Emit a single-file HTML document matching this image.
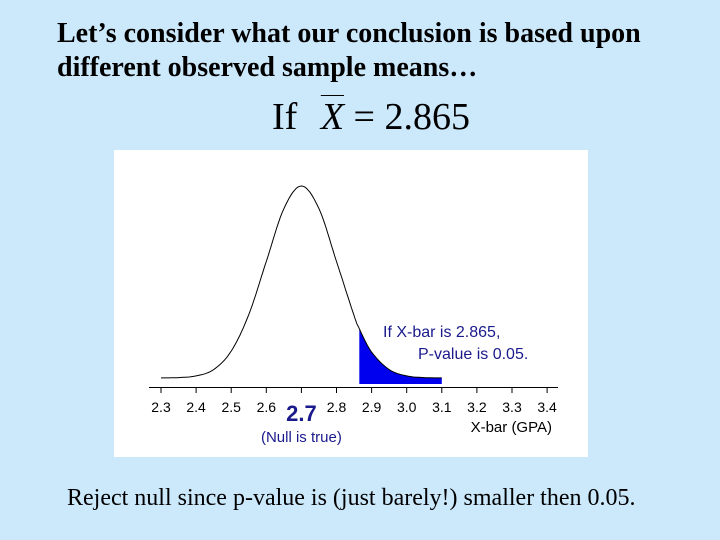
<!DOCTYPE html>
<html><head><meta charset="utf-8">
<style>
body{margin:0;width:720px;height:540px;background:#cce8fb;position:relative;overflow:hidden;font-family:"Liberation Serif",serif}
.t{position:absolute;white-space:nowrap}
</style></head>
<body>
<div class="t" style="left:57px;top:17px;font-size:28px;font-weight:bold;line-height:34px">Let’s consider what our conclusion is based upon<br>different observed sample means…</div>
<div class="t" style="left:272px;top:95px;font-size:38px;line-height:44px">If <span style="font-style:italic;text-decoration:overline;text-decoration-thickness:1px;margin-left:14px">X</span> = 2.865</div>
<svg style="position:absolute;left:0;top:0" width="720" height="540">
<rect x="114" y="150" width="474" height="307" fill="#fff"/>
<g id="g"></g>
</svg>
<div class="t" style="left:67px;top:485px;font-size:24px">Reject null since p-value is (just barely!) smaller then 0.05.</div>
<script>
const xs=[2.30,2.35,2.40,2.45,2.50,2.55,2.60,2.65,2.70,2.75,2.80,2.85,2.865,2.90,2.95,3.00,3.05,3.10];
const ys=[0.0003,0.0022,0.011,0.044,0.140,0.330,0.607,0.882,1,0.882,0.607,0.325,0.257,0.135,0.044,0.011,0.0022,0.0003];
const ticks=[2.3,2.4,2.5,2.6,2.7,2.8,2.9,3.0,3.1,3.2,3.3,3.4];
const tickLabels=["2.3","2.4","2.5","2.6","","2.8","2.9","3.0","3.1","3.2","3.3","3.4"];
const pCut=2.865;
const X=v=>161+(v-2.3)*351;
const Y=v=>378-v*192;
const ns="http://www.w3.org/2000/svg",g=document.getElementById('g');
function mk(t,a,n){const e=document.createElementNS(ns,t);for(const k in a)e.setAttribute(k,a[k]);g.appendChild(e);return e;}
function pts(from,to){const P=xs.map((x,i)=>[X(x),Y(ys[i])]);let out=[];
for(let i=0;i<P.length-1;i++){const p0=P[Math.max(0,i-1)],p1=P[i],p2=P[i+1],p3=P[Math.min(P.length-1,i+2)];
for(let s=0;s<10;s++){const t=s/10,t2=t*t,t3=t2*t;
const f=(a,b,c,d)=>0.5*(2*b+(-a+c)*t+(2*a-5*b+4*c-d)*t2+(-a+3*b-3*c+d)*t3);
out.push([f(p0[0],p1[0],p2[0],p3[0]),f(p0[1],p1[1],p2[1],p3[1])]);}}
out.push(P[P.length-1]);return out.filter(p=>p[0]>=X(from)-0.01&&p[0]<=X(to)+0.01);}
const tail=pts(pCut,xs[xs.length-1]);
let d='M'+X(pCut)+','+384+' '+tail.map(p=>'L'+p[0].toFixed(1)+','+p[1].toFixed(1)).join(' ')+' L'+X(xs[xs.length-1])+',384Z';
mk('path',{d:d,fill:'#0000ee'},'p-value-area');
const all=pts(xs[0],xs[xs.length-1]);
mk('path',{d:'M'+all.map(p=>p[0].toFixed(1)+','+p[1].toFixed(1)).join(' L'),fill:'none',stroke:'#000','stroke-width':1},'density-curve');
mk('line',{x1:149,x2:558,y1:387.5,y2:387.5,stroke:'#000','stroke-width':1},'x-axis');
ticks.forEach((t,i)=>{
mk('line',{x1:X(t),x2:X(t),y1:387,y2:393,stroke:'#000'},'x-tick');
if(tickLabels[i]){const e=mk('text',{x:X(t),y:412,'text-anchor':'middle','font-size':14,'font-family':'Liberation Sans,sans-serif',fill:'#000'},'x-tick-label');e.textContent=tickLabels[i];}
});
let e=mk('text',{x:X(2.7),y:421,'text-anchor':'middle','font-size':22,'font-weight':'bold','font-family':'Liberation Sans,sans-serif',fill:'#1a1a8c'},'null-mean-label');e.textContent='2.7';
e=mk('text',{x:X(2.7),y:442,'text-anchor':'middle','font-size':15,'font-family':'Liberation Sans,sans-serif',fill:'#1a1a8c'},'null-is-true-label');e.textContent='(Null is true)';
e=mk('text',{x:552,y:432,'text-anchor':'end','font-size':15,'font-family':'Liberation Sans,sans-serif',fill:'#000'},'x-axis-title');e.textContent='X-bar (GPA)';
e=mk('text',{x:383,y:337,'font-size':16,'font-family':'Liberation Sans,sans-serif',fill:'#1a1a8c'},'annotation-line1');e.textContent='If X-bar is 2.865,';
e=mk('text',{x:418,y:359,'font-size':16,'font-family':'Liberation Sans,sans-serif',fill:'#1a1a8c'},'annotation-line2');e.textContent='P-value is 0.05.';
</script>
</body></html>
